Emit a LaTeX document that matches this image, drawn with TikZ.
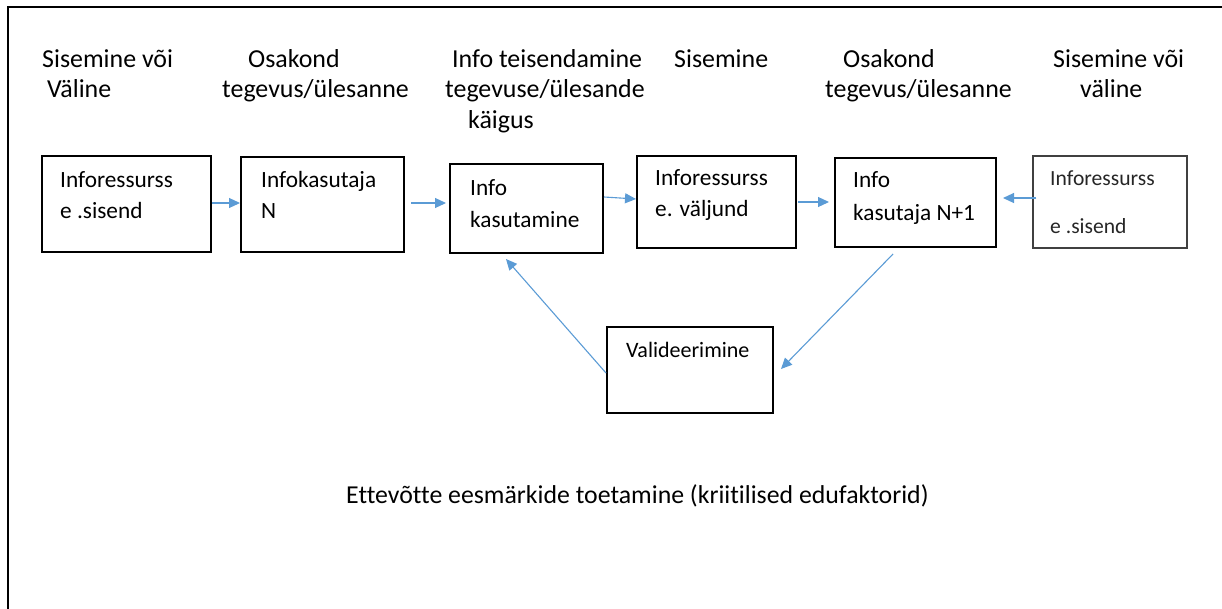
\documentclass[tikz,border=0pt]{standalone}
\usepackage{fontspec}
\setmainfont[Ligatures=NoCommon]{Carlito}
\usetikzlibrary{arrows.meta}
\definecolor{flow}{HTML}{5B9BD5}
\definecolor{softframe}{HTML}{404040}

\begin{document}
\begin{tikzpicture}[x=1pt,y=-1pt,
  box/.style={draw=black, line width=2pt, inner sep=0pt},
  softbox/.style={draw=softframe, line width=1.2pt, inner sep=0pt},
  head/.style={anchor=base west, inner sep=0pt, font=\fontsize{25.9}{30}\selectfont},
  lbl/.style={anchor=base west, inner sep=0pt, font=\fontsize{23.3}{27}\selectfont},
  lblsmall/.style={anchor=base west, inner sep=0pt, text=black!85, font=\fontsize{21.6}{25}\selectfont},
  flowarrow/.style={draw=flow, line width=1.1pt, -{Triangle[length=11pt,width=10pt]}},
]
\useasboundingbox (0,0) rectangle (1222,608);

% outer frame, open towards the right and bottom
\draw[line width=2.6pt] (8,640) -- (8,7) -- (1260,7);

% column headings
\node[head] (h1a) at (42,67)  {Sisemine või};
\node[head] (h1b) at (47,97)  {Väline};
\node[head] (h2a) at (248,67) {Osakond};
\node[head] (h2b) at (222,97) {tegevus/ülesanne};
\node[head] (h3a) at (452,67) {Info teisendamine};
\node[head] (h3b) at (445,97) {tegevuse/ülesande};
\node[head] (h3c) at (468,128) {käigus};
\node[head] (h4)  at (674,67) {Sisemine};
\node[head] (h5a) at (843,67) {Osakond};
\node[head] (h5b) at (825,97) {tegevus/ülesanne};
\node[head] (h6a) at (1053,67) {Sisemine või};
\node[head] (h6b) at (1080,97) {väline};

% process boxes
\node[box, minimum width=169pt, minimum height=96pt] (b1) at (126.5,204) {};
\node[box, minimum width=163pt, minimum height=95pt] (b2) at (322.5,204.5) {};
\node[box, minimum width=153pt, minimum height=89pt] (b3) at (526.5,208.5) {};
\node[box, minimum width=159pt, minimum height=92pt] (b4) at (716.5,202) {};
\node[box, minimum width=161pt, minimum height=89pt] (b5) at (915.5,202.5) {};
\node[softbox, minimum width=154pt, minimum height=92pt] (b6) at (1110,202) {};
\node[box, minimum width=166pt, minimum height=86pt] (bv) at (690,370) {};

% box texts
\node[lbl] (t1a) at (60,187)  {Inforessurss};
\node[lbl] (t1b) at (60,218)  {e .sisend};
\node[lbl] (t2a) at (261,187) {Infokasutaja};
\node[lbl] (t2b) at (261,218) {N};
\node[lbl] (t3a) at (470,195) {Info};
\node[lbl] (t3b) at (470,227) {kasutamine};
\node[lbl] (t4a) at (655,185) {Inforessurss};
\node[lbl] (t4b) at (655,216) {e. väljund};
\node[lbl] (t5a) at (853,187) {Info};
\node[lbl] (t5b) at (853,220) {kasutaja N+1};
\node[lblsmall] (t6a) at (1050,185) {Inforessurss};
\node[lblsmall] (t6b) at (1050,233) {e .sisend};
\node[lbl, font=\fontsize{22}{26}\selectfont] (tv) at (626,357) {Valideerimine};

% goal line
\node[anchor=base west, inner sep=0pt, font=\fontsize{25.8}{30}\selectfont] (goal) at (346,503)
  {Ettevõtte eesmärkide toetamine (kriitilised edufaktorid)};

% flow arrows
\draw[flowarrow] ([yshift=1pt]b1.east) -- ([yshift=1.5pt]b2.west);
\draw[flowarrow] ([xshift=6pt,yshift=1.5pt]b2.east) -- ([xshift=-3pt,yshift=5.5pt]b3.west);
\draw[flowarrow] ([yshift=11.5pt]b3.east) -- ([yshift=3pt]b4.west);
\draw[flowarrow] ([xshift=1pt]b4.east) -- ([xshift=-5pt,yshift=0.5pt]b5.west);
\draw[flowarrow] ([xshift=4pt,yshift=4pt]b6.west) -- ([xshift=6pt,yshift=4.5pt]b5.east);
\draw[flowarrow] ([xshift=-22.5pt,yshift=-6pt]b5.south) -- ([xshift=7pt,yshift=1pt]bv.east);
\draw[flowarrow] ([yshift=-3pt]bv.west) -- ([xshift=-20.5pt,yshift=-5pt]b3.south);
\end{tikzpicture}
\end{document}
